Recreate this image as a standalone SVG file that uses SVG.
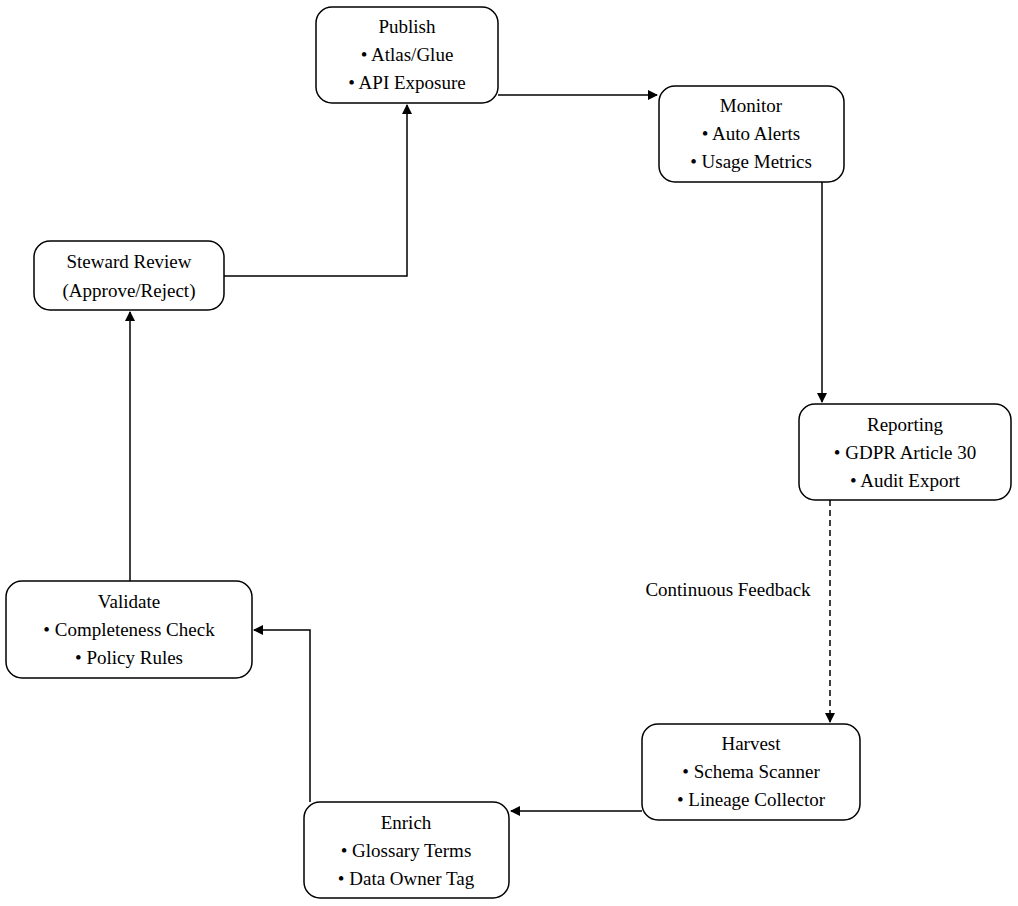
<svg xmlns="http://www.w3.org/2000/svg" width="1018" height="906" viewBox="0 0 1018 906">
<style>
.n{fill:#fff;stroke:#000;stroke-width:1.5}
text{font-family:"Liberation Serif",serif;font-size:19px;text-anchor:middle;fill:#000}
.c{fill:none;stroke:#000;stroke-width:1.5}
</style>
<defs><marker id="a" markerWidth="10" markerHeight="10" refX="9" refY="5" orient="auto" markerUnits="userSpaceOnUse"><path d="M0,0L10,5L0,10z"/></marker></defs>
<rect width="1018" height="906" fill="#fff"/>
<g id="connectors">
<path class="c" d="M498,95H657" marker-end="url(#a)"/>
<path class="c" d="M822,182V402" marker-end="url(#a)"/>
<path class="c" d="M830,500V722" stroke-dasharray="6,4" marker-end="url(#a)"/>
<path class="c" d="M642,811H511" marker-end="url(#a)"/>
<path class="c" d="M310,802V630H254" marker-end="url(#a)"/>
<path class="c" d="M130,581V312" marker-end="url(#a)"/>
<path class="c" d="M224,276H407V105" marker-end="url(#a)"/>
<rect x="628" y="576" width="200" height="26" fill="#fff"/>
<text x="728" y="596">Continuous Feedback</text>
</g>
<g id="publish"><rect class="n" x="316" y="7" width="182" height="96" rx="16"/><text x="407" y="33">Publish</text><text x="407" y="61">• Atlas/Glue</text><text x="407" y="89">• API Exposure</text></g>
<g id="monitor"><rect class="n" x="659" y="86" width="185" height="96" rx="16"/><text x="751" y="112">Monitor</text><text x="751" y="140">• Auto Alerts</text><text x="751" y="168">• Usage Metrics</text></g>
<g id="steward"><rect class="n" x="34" y="241" width="190" height="69" rx="16"/><text x="129" y="268">Steward Review</text><text x="129" y="297">(Approve/Reject)</text></g>
<g id="reporting"><rect class="n" x="799" y="404" width="212" height="96" rx="16"/><text x="905" y="431">Reporting</text><text x="905" y="459">• GDPR Article 30</text><text x="905" y="487">• Audit Export</text></g>
<g id="validate"><rect class="n" x="6" y="581" width="246" height="97" rx="16"/><text x="129" y="608">Validate</text><text x="129" y="636">• Completeness Check</text><text x="129" y="664">• Policy Rules</text></g>
<g id="harvest"><rect class="n" x="642" y="724" width="218" height="96" rx="16"/><text x="751" y="750">Harvest</text><text x="751" y="778">• Schema Scanner</text><text x="751" y="806">• Lineage Collector</text></g>
<g id="enrich"><rect class="n" x="304" y="802" width="205" height="96" rx="16"/><text x="406" y="829">Enrich</text><text x="406" y="857">• Glossary Terms</text><text x="406" y="885">• Data Owner Tag</text></g>
</svg>
